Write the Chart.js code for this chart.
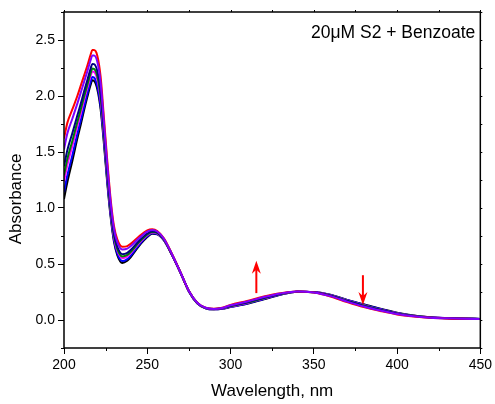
<!DOCTYPE html>
<html>
<head>
<meta charset="utf-8">
<script src="https://cdn.jsdelivr.net/npm/chart.js@4/dist/chart.umd.min.js"></script>
<style>
html,body{margin:0;padding:0;background:#fff;}
canvas{display:block;}
</style>
</head>
<body>
<canvas id="c" width="495" height="404"></canvas>
<script>
const wavelength = [200,202,205,208,210,212,214,216,217,218,220,222,224,226,228,230,232,235,238,240,245,250,253,256,260,265,270,275,280,285,290,295,300,310,320,330,340,350,360,370,380,390,400,410,420,430,440,450];

const absBlack   = [1.08,1.23,1.42,1.62,1.74,1.87,1.99,2.10,2.14,2.135,2.06,1.88,1.57,1.22,0.92,0.70,0.58,0.51,0.53,0.56,0.66,0.74,0.77,0.765,0.71,0.575,0.42,0.255,0.15,0.105,0.095,0.10,0.115,0.145,0.185,0.225,0.252,0.25,0.225,0.18,0.14,0.10,0.065,0.04,0.025,0.017,0.013,0.01];
const absBlue    = [1.14,1.29,1.47,1.66,1.78,1.90,2.02,2.13,2.17,2.165,2.09,1.91,1.60,1.24,0.94,0.715,0.595,0.526,0.544,0.573,0.669,0.747,0.774,0.768,0.712,0.576,0.42,0.255,0.15,0.105,0.095,0.101,0.117,0.148,0.188,0.227,0.252,0.249,0.223,0.178,0.137,0.098,0.063,0.039,0.024,0.017,0.013,0.01];
const absMagenta = [1.237,1.384,1.553,1.73,1.84,1.96,2.071,2.178,2.218,2.215,2.147,1.964,1.637,1.278,0.966,0.741,0.621,0.552,0.568,0.595,0.685,0.757,0.782,0.774,0.716,0.578,0.421,0.256,0.151,0.106,0.096,0.103,0.121,0.152,0.192,0.229,0.253,0.249,0.221,0.174,0.133,0.094,0.061,0.038,0.024,0.016,0.012,0.01];
const absGreen   = [1.291,1.437,1.599,1.768,1.877,1.991,2.099,2.205,2.245,2.242,2.177,1.993,1.66,1.298,0.982,0.755,0.635,0.567,0.581,0.607,0.693,0.763,0.786,0.777,0.718,0.579,0.422,0.257,0.152,0.107,0.097,0.104,0.123,0.155,0.195,0.231,0.253,0.248,0.219,0.172,0.13,0.092,0.059,0.037,0.023,0.016,0.012,0.01];
const absNavy    = [1.372,1.516,1.668,1.825,1.929,2.037,2.141,2.246,2.286,2.284,2.222,2.037,1.694,1.328,1.006,0.776,0.656,0.588,0.60,0.625,0.706,0.772,0.792,0.781,0.721,0.58,0.423,0.258,0.153,0.108,0.098,0.105,0.126,0.159,0.199,0.233,0.254,0.247,0.217,0.169,0.126,0.089,0.057,0.036,0.022,0.015,0.012,0.009];
const absPurple  = [1.523,1.665,1.797,1.932,2.027,2.124,2.22,2.321,2.361,2.361,2.306,2.118,1.759,1.384,1.051,0.815,0.695,0.629,0.637,0.658,0.73,0.789,0.803,0.79,0.726,0.583,0.424,0.259,0.154,0.109,0.099,0.108,0.131,0.165,0.205,0.237,0.255,0.246,0.213,0.164,0.12,0.084,0.053,0.033,0.021,0.015,0.011,0.009];
const absRed     = [1.62,1.76,1.88,2.00,2.09,2.18,2.27,2.37,2.41,2.41,2.36,2.17,1.80,1.42,1.08,0.84,0.72,0.655,0.66,0.68,0.745,0.80,0.81,0.795,0.73,0.585,0.425,0.26,0.155,0.11,0.10,0.11,0.135,0.17,0.21,0.24,0.255,0.245,0.21,0.16,0.115,0.08,0.05,0.032,0.02,0.014,0.011,0.009];

const xTicks = [200,250,300,350,400,450];
const xMinorTicks = [225,275,325,375,425];
const yTicks = [0,0.5,1.0,1.5,2.0,2.5];
const yMinorTicks = [-0.25,0.25,0.75,1.25,1.75,2.25,2.75];

const arrowX    = [315.5, 379.5];
const arrowFrom = [0.24, 0.40];
const arrowTo   = [0.53, 0.134];

const labelText = '20\u03bcM S2 + Benzoate';

function pts(arr){ return wavelength.map((w,i)=>({x:w,y:arr[i]})); }
function isMajorY(v){ return yTicks.some(t=>Math.abs(t-v)<1e-6); }

const series = [
  {name:'purple', data:absPurple, color:'#8000ff'},
  {name:'red', data:absRed, color:'#ff0000'},
  {name:'navy', data:absNavy, color:'#000080'},
  {name:'green', data:absGreen, color:'#008000'},
  {name:'magenta', data:absMagenta, color:'#ff00ff'},
  {name:'blue', data:absBlue, color:'#0000ff'},
  {name:'black', data:absBlack, color:'#000000'}
];

const FONT = '"Liberation Sans", Arial, Helvetica, sans-serif';

const framePlugin = {
  id:'frame',
  afterDraw(chart){
    const ctx = chart.ctx;
    const a = chart.chartArea;
    const xs = chart.scales.x, ys = chart.scales.y;
    ctx.save();
    ctx.strokeStyle = '#000';
    ctx.lineWidth = 1.5;
    ctx.strokeRect(a.left, a.top, a.right - a.left, a.bottom - a.top);
    ctx.lineWidth = 1;
    ctx.beginPath();
    xMinorTicks.forEach(v=>{
      const px = Math.round(xs.getPixelForValue(v)) + 0.5;
      ctx.moveTo(px, a.bottom); ctx.lineTo(px, a.bottom + 3);
      ctx.moveTo(px, a.top); ctx.lineTo(px, a.top - 2);
    });
    xTicks.forEach(v=>{
      const px = Math.round(xs.getPixelForValue(v)) + 0.5;
      ctx.moveTo(px, a.top); ctx.lineTo(px, a.top - 2);
    });
    yMinorTicks.forEach(v=>{
      const py = Math.round(ys.getPixelForValue(v)) + 0.5;
      ctx.moveTo(a.left, py); ctx.lineTo(a.left - 3, py);
      ctx.moveTo(a.right, py); ctx.lineTo(a.right + 2, py);
    });
    yTicks.forEach(v=>{
      const py = Math.round(ys.getPixelForValue(v)) + 0.5;
      ctx.moveTo(a.right, py); ctx.lineTo(a.right + 2, py);
    });
    ctx.stroke();

    // arrows
    ctx.strokeStyle = '#ff0000';
    ctx.fillStyle = '#ff0000';
    ctx.lineWidth = 2;
    arrowX.forEach((w,i)=>{
      const px = xs.getPixelForValue(w);
      const y0 = ys.getPixelForValue(arrowFrom[i]);
      const y1 = ys.getPixelForValue(arrowTo[i]);
      const dir = y1 < y0 ? -1 : 1;
      const headLen = 13, headW = 4.5;
      ctx.beginPath();
      ctx.moveTo(px, y0);
      ctx.lineTo(px, y1 - dir*headLen*0.6);
      ctx.stroke();
      ctx.beginPath();
      ctx.moveTo(px, y1);
      ctx.lineTo(px - headW, y1 - dir*headLen);
      ctx.lineTo(px, y1 - dir*headLen*0.7);
      ctx.lineTo(px + headW, y1 - dir*headLen);
      ctx.closePath();
      ctx.fill();
    });

    // label
    ctx.fillStyle = '#000';
    ctx.font = '17.5px ' + FONT;
    ctx.textAlign = 'right';
    ctx.textBaseline = 'middle';
    ctx.fillText(labelText, a.right - 5, 33);
    ctx.restore();
  }
};

new Chart(document.getElementById('c'), {
  type:'line',
  data:{
    datasets: series.map(s=>({
      label:s.name,
      data:pts(s.data),
      borderColor:s.color,
      backgroundColor:s.color,
      borderWidth:2,
      pointRadius:0,
      fill:false,
      cubicInterpolationMode:'monotone'
    }))
  },
  options:{
    responsive:false,
    animation:false,
    devicePixelRatio:1,
    layout:{padding:{top:12,right:14,left:0,bottom:0}},
    plugins:{legend:{display:false},tooltip:{enabled:false}},
    scales:{
      x:{
        type:'linear',
        min:200,max:450,
        afterFit(s){ s.height = 56; },
        ticks:{stepSize:50,color:'#000',font:{family:FONT,size:14},padding:3,maxRotation:0},
        grid:{drawOnChartArea:false,tickLength:6,color:'#000',lineWidth:1},
        border:{display:false},
        title:{display:true,text:'Wavelength, nm',color:'#000',font:{family:FONT,size:17},padding:{top:0,bottom:2}}
      },
      y:{
        type:'linear',
        min:-0.25,max:2.75,
        afterFit(s){ s.width = 64; },
        ticks:{
          stepSize:0.25,autoSkip:false,color:'#000',font:{family:FONT,size:14},padding:3,
          callback(v){ return isMajorY(v) ? Number(v).toFixed(1) : ''; }
        },
        grid:{
          drawOnChartArea:false,tickLength:6,lineWidth:1,
          color(ctx){ const v = ctx.tick ? ctx.tick.value : NaN; return isMajorY(v) ? '#000' : 'rgba(0,0,0,0)'; }
        },
        border:{display:false},
        title:{display:true,text:'Absorbance        ',color:'#000',font:{family:FONT,size:17},padding:{top:6.5,bottom:0}}
      }
    }
  },
  plugins:[framePlugin]
});
</script>
</body>
</html>
